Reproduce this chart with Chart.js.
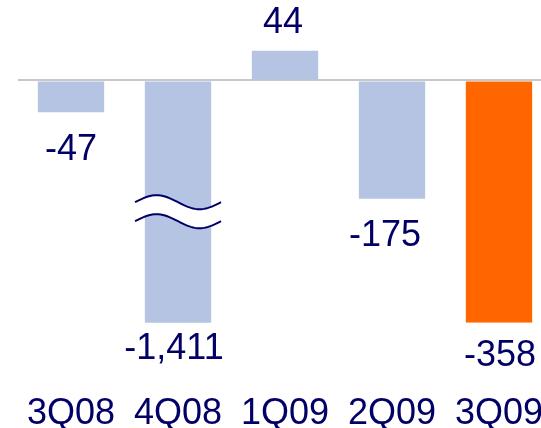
<!DOCTYPE html>
<html>
<head>
<meta charset="utf-8">
<script src="https://cdn.jsdelivr.net/npm/chart.js@4/dist/chart.umd.min.js"></script>
<style>
  html, body { margin: 0; padding: 0; overflow: hidden; background: #fff; }
  canvas { display: block; }
</style>
</head>
<body>
<canvas id="bar-chart" width="560" height="428" style="width:560px;height:428px"></canvas>
<script>
// Dados
const quarters = ["3Q08", "4Q08", "1Q09", "2Q09", "3Q09"];
const values = [-47, -1411, 44, -175, -358];
const brokenBar = 1; // 4Q08: barra cortada (quebra de eixo)

const navy = "#000066";
const fontFamily = '"Liberation Sans", Arial, sans-serif';

// deslocamento dos rótulos [dx, dy] em relação ao fim da barra
const labelShift = [[0, 48], [-4, 36], [-2, -18], [-7, 47], [1, 43]];

const valueLabels = {
    id: "valueLabels",
    afterDatasetsDraw(chart) {
        const { ctx, chartArea } = chart;
        const meta = chart.getDatasetMeta(0);
        ctx.save();

        // símbolo de quebra na barra 4Q08
        const b = meta.data[brokenBar];
        const base = b.base;
        const mid = base + (chartArea.bottom - base) * 0.54;
        const x0 = b.x - 43, span = 86, amp = 7, gap = 9.5;
        const wave = (dy, reverse) => {
            const pts = [];
            for (let i = 0; i <= 40; i++) {
                const t = i / 40;
                pts.push([x0 + span * t, mid + dy - amp * Math.sin(2 * Math.PI * t)]);
            }
            return reverse ? pts.reverse() : pts;
        };
        ctx.beginPath();
        wave(-gap, false).forEach((p, i) => i ? ctx.lineTo(p[0], p[1]) : ctx.moveTo(p[0], p[1]));
        wave(gap, true).forEach(p => ctx.lineTo(p[0], p[1]));
        ctx.closePath();
        ctx.fillStyle = "#fff";
        ctx.fill();
        ctx.strokeStyle = navy;
        ctx.lineWidth = 2;
        [-gap, gap].forEach(dy => {
            ctx.beginPath();
            wave(dy, false).forEach((p, i) => i ? ctx.lineTo(p[0], p[1]) : ctx.moveTo(p[0], p[1]));
            ctx.stroke();
        });

        // rótulos de valor
        ctx.font = "36px " + fontFamily;
        ctx.fillStyle = navy;
        ctx.textAlign = "center";
        ctx.textBaseline = "alphabetic";
        meta.data.forEach((bar, i) => {
            const end = Math.max(chartArea.top, Math.min(bar.y, chartArea.bottom));
            const [dx, dy] = labelShift[i];
            ctx.fillText(values[i].toLocaleString("en-US"), bar.x + dx, end + dy);
        });
        ctx.restore();
    }
};

new Chart(document.getElementById("bar-chart"), {
    type: "bar",
    data: {
        labels: quarters,
        datasets: [{
            data: values,
            backgroundColor: ["#b4c4e2", "#b4c4e2", "#b4c4e2", "#b4c4e2", "#ff6600"],
            borderWidth: 0,
            barPercentage: 0.62,
            categoryPercentage: 1
        }]
    },
    options: {
        responsive: false,
        animation: false,
        devicePixelRatio: 1,
        layout: { padding: { left: 17.5, right: 7.5, top: 6, bottom: 0 } },
        plugins: {
            legend: { display: false },
            tooltip: { enabled: false }
        },
        scales: {
            x: {
                grid: { display: false, drawTicks: false },
                border: { display: false },
                ticks: {
                    color: navy,
                    font: { family: fontFamily, size: 36, lineHeight: 1 },
                    padding: 73,
                    maxRotation: 0,
                    minRotation: 0,
                    autoSkip: false
                },
                afterFit: axis => {
                    axis.height = 105.3;
                    axis.paddingLeft = 0;
                    axis.paddingRight = 0;
                }
            },
            y: {
                min: -358,
                max: 110,
                border: { display: false },
                grid: { color: "#c8c8c8", lineWidth: 2, drawTicks: false },
                ticks: { display: false },
                afterFit: axis => { axis.width = 0; },
                afterBuildTicks: axis => { axis.ticks = [{ value: 0 }]; }
            }
        }
    },
    plugins: [valueLabels]
});
</script>
</body>
</html>
